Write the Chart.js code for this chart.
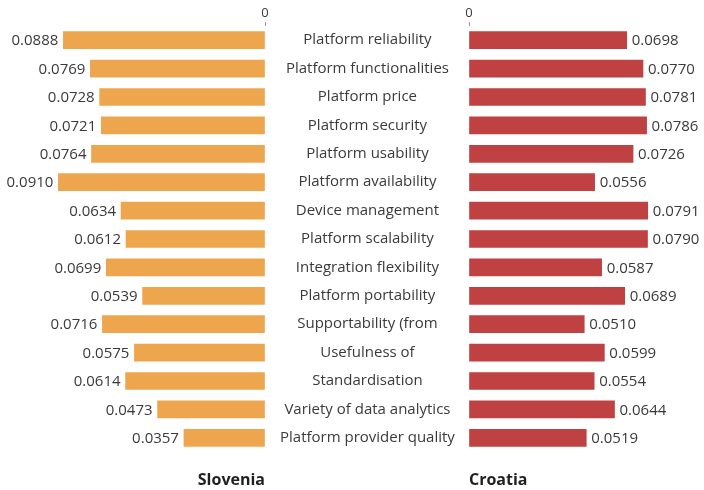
<!DOCTYPE html>
<html>
<head>
<meta charset="utf-8">
<script src="https://cdn.jsdelivr.net/npm/chart.js@4/dist/chart.umd.min.js"></script>
<style>
  body { margin: 0; background: #fff; }
  #wrap { position: relative; width: 704px; height: 490px; }
  #wrap canvas { position: absolute; top: 0; }
</style>
</head>
<body>
<div id="wrap">
  <canvas id="left" width="470" height="490" style="left:0"></canvas>
  <canvas id="right" width="245" height="490" style="left:459px"></canvas>
</div>
<script>
var categories = [
    "Platform reliability",
    "Platform functionalities",
    "Platform price",
    "Platform security",
    "Platform usability",
    "Platform availability",
    "Device management",
    "Platform scalability",
    "Integration flexibility",
    "Platform portability",
    "Supportability (from",
    "Usefulness of",
    "Standardisation",
    "Variety of data analytics",
    "Platform provider quality"
];
var slovenia = [0.0888, 0.0769, 0.0728, 0.0721, 0.0764, 0.0910, 0.0634, 0.0612, 0.0699, 0.0539, 0.0716, 0.0575, 0.0614, 0.0473, 0.0357];
var croatia = [0.0698, 0.0770, 0.0781, 0.0786, 0.0726, 0.0556, 0.0791, 0.0790, 0.0587, 0.0689, 0.0510, 0.0599, 0.0554, 0.0644, 0.0519];
var zeroTick = [0];

var FONT = "'Open Sans', sans-serif";
var TEXT = "#3a3a3a";

// writes the value next to the outer end of each bar
var valueLabels = {
    id: "valueLabels",
    afterDatasetsDraw: function (chart, args, opts) {
        var ctx = chart.ctx;
        var meta = chart.getDatasetMeta(0);
        var data = chart.data.datasets[0].data;
        ctx.save();
        ctx.font = "15px " + FONT;
        ctx.fillStyle = TEXT;
        ctx.textBaseline = "middle";
        ctx.textAlign = opts.side === "left" ? "right" : "left";
        for (var i = 0; i < meta.data.length; i++) {
            var bar = meta.data[i];
            var x = opts.side === "left" ? bar.x - 5 : bar.x + 5;
            ctx.fillText(data[i].toFixed(4), x, bar.y + 1);
        }
        ctx.restore();
    }
};

function buildSide(canvasId, values, color, side, max, country) {
    var showCategories = side === "left";
    return new Chart(document.getElementById(canvasId), {
        type: "bar",
        data: {
            labels: categories,
            datasets: [{
                data: values,
                backgroundColor: color,
                barThickness: 17,
                xAxisID: "x"
            }]
        },
        plugins: [valueLabels],
        options: {
            indexAxis: "y",
            responsive: false,
            animation: false,
            layout: { padding: { left: showCategories ? 0 : 10 } },
            plugins: {
                legend: { display: false },
                tooltip: { enabled: false },
                valueLabels: { side: side }
            },
            scales: {
                x: {
                    type: "linear",
                    position: "top",
                    reverse: side === "left",
                    min: 0,
                    max: max,
                    afterBuildTicks: function (scale) {
                        scale.ticks = zeroTick.map(function (v) { return { value: v }; });
                    },
                    afterFit: function (scale) {
                        // keep the plot flush with the zero line
                        scale.height = 26;
                        scale.paddingLeft = 0;
                        scale.paddingRight = 0;
                    },
                    ticks: {
                        font: { family: FONT, size: 13 },
                        color: TEXT,
                        padding: 1,
                        callback: function (v) { return String(v); }
                    },
                    grid: {
                        drawOnChartArea: false,
                        tickLength: 4,
                        color: "#9a9a9a"
                    },
                    border: { display: false }
                },
                title: {
                    type: "linear",
                    position: "bottom",
                    min: 0,
                    max: 1,
                    afterFit: function (scale) { scale.height = 38; },
                    ticks: { display: false },
                    grid: { display: false, drawTicks: false },
                    border: { display: false },
                    title: {
                        display: true,
                        text: country,
                        align: side === "left" ? "end" : "start",
                        color: "#1f1f1f",
                        font: { family: FONT, size: 16, weight: "bold" },
                        padding: { top: 4, bottom: 0 }
                    }
                },
                y: {
                    display: showCategories,
                    position: "right",
                    afterFit: function (scale) { scale.width = showCategories ? 205 : 0; },
                    ticks: {
                        crossAlign: "center",
                        padding: 15,
                        color: TEXT,
                        font: { family: FONT, size: 15 }
                    },
                    grid: { display: false, drawTicks: false },
                    border: { display: false }
                }
            }
        }
    });
}

buildSide("left", slovenia, "#eda54e", "left", 0.1167, "Slovenia");
buildSide("right", croatia, "#bf4141", "right", 0.104, "Croatia");
</script>
</body>
</html>
